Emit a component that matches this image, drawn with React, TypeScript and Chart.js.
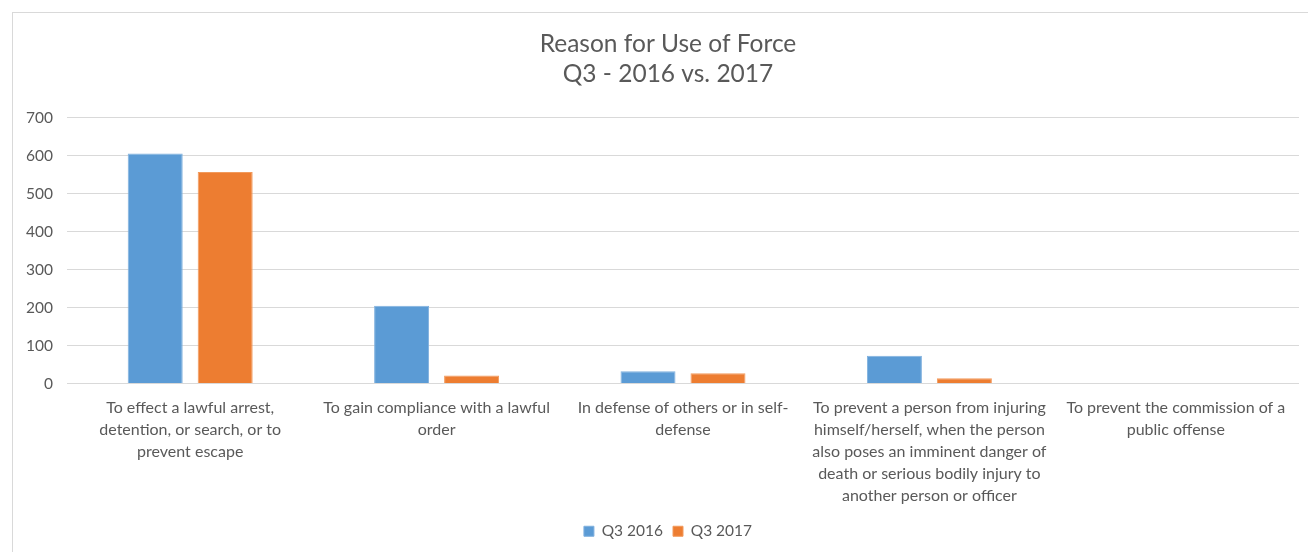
import React, { useEffect, useRef } from "react";
import { Chart, registerables } from "chart.js";

Chart.register(...registerables);

const categories: string[][] = [
  ["To effect a lawful arrest,", "detention, or search, or to", "prevent escape"],
  ["To gain compliance with a lawful", "order"],
  ["In defense of others or in self-", "defense"],
  [
    "To prevent a person from injuring",
    "himself/herself, when the person",
    "also poses an imminent danger of",
    "death or serious bodily injury to",
    "another person or officer",
  ],
  ["To prevent the commission of a", "public offense"],
];
const q3_2016: number[] = [606, 205, 32, 73, 0];
const q3_2017: number[] = [557, 21, 27, 14, 0];
const seriesNames: string[] = ["Q3 2016", "Q3 2017"];
const titleLines: string[] = ["Reason for Use of Force", "Q3 - 2016 vs. 2017"];

const FONT = "Lato, 'Open Sans', sans-serif";
const TEXT = "#595959";

// Centre the title and legend over the whole frame rather than the padded box.
const centerBoxes = {
  id: "centerBoxes",
  afterLayout(chart: any) {
    const w = chart.width;
    if (chart.titleBlock) {
      chart.titleBlock.left = 0;
      chart.titleBlock.right = w;
    }
    if (chart.legend) {
      chart.legend.left = 0;
      chart.legend.right = w;
    }
  },
};

export default function App() {
  const ref = useRef<HTMLCanvasElement | null>(null);
  useEffect(() => {
    if (!ref.current) return;
    const chart = new Chart(ref.current, {
      type: "bar",
      data: {
        labels: categories,
        datasets: [
          {
            label: seriesNames[0],
            data: q3_2016,
            backgroundColor: "#5B9BD5",
            borderColor: "#7fb0de",
            borderWidth: 1,
            barPercentage: 0.786,
            categoryPercentage: 0.568,
          },
          {
            label: seriesNames[1],
            data: q3_2017,
            backgroundColor: "#ED7D31",
            borderColor: "#f29a5c",
            borderWidth: 1,
            barPercentage: 0.786,
            categoryPercentage: 0.568,
          },
        ],
      },
      plugins: [centerBoxes],
      options: {
        animation: false,
        responsive: false,
        maintainAspectRatio: false,
        layout: { padding: { left: 0, right: 24, top: 0, bottom: 9 } },
        plugins: {
          title: {
            display: true,
            text: titleLines,
            color: TEXT,
            font: { family: FONT, size: 24.5, weight: "normal", lineHeight: 1.22 },
            padding: { top: 16, bottom: 29 },
          },
          legend: {
            position: "bottom",
            labels: {
              color: TEXT,
              font: { family: FONT, size: 15.5 },
              boxWidth: 10,
              boxHeight: 10,
              padding: 10,
            },
          },
          tooltip: { enabled: false },
        },
        scales: {
          x: {
            grid: { display: false, drawTicks: false },
            border: { display: false },
            ticks: {
              color: TEXT,
              font: { family: FONT, size: 16, lineHeight: 1.375 },
              autoSkip: false,
              maxRotation: 0,
              minRotation: 0,
              padding: 13,
            },
            afterFit: (s: any) => {
              s.height = 130;
            },
          },
          y: {
            min: 0,
            max: 700,
            grid: { color: "#d9d9d9", drawTicks: false, lineWidth: 1 },
            border: { display: false },
            ticks: {
              stepSize: 100,
              color: TEXT,
              font: { family: FONT, size: 15.5 },
              padding: 14,
            },
            afterFit: (s: any) => {
              s.width = 54;
            },
          },
        },
      },
    });
    return () => chart.destroy();
  }, []);

  return (
    <div style={{ position: "fixed", inset: 0, overflow: "hidden", background: "#fff" }}>
      <div
        style={{
          position: "absolute",
          left: 12,
          top: 12,
          width: 1310,
          height: 560,
          border: "1px solid #d9d9d9",
          background: "#fff",
        }}
      >
        <canvas ref={ref} width={1310} height={545} style={{ display: "block" }} />
      </div>
    </div>
  );
}
